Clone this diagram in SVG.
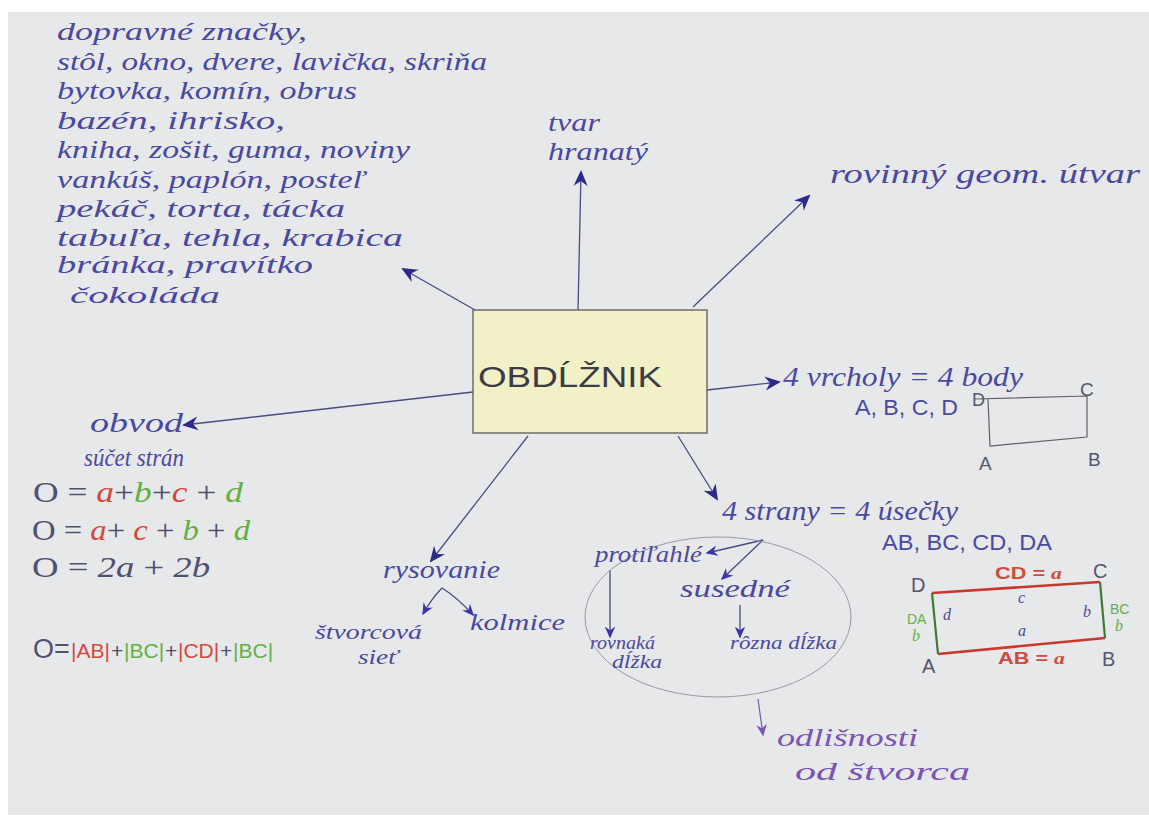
<svg xmlns="http://www.w3.org/2000/svg" width="1149" height="821" viewBox="0 0 1149 821">
<style>
.hw{font-family:"Liberation Serif","DejaVu Serif",serif;font-style:italic;fill:#4a48a0}
.pr{font-family:"Liberation Sans","DejaVu Sans",sans-serif;fill:#55556e}
.fs{font-family:"Liberation Sans","DejaVu Sans",sans-serif;font-size:21px}
.line{fill:none;stroke:#4b4b82;stroke-width:1.3}
.red{fill:#d24a3c}
.grn{fill:#62b044}
.blu{fill:#4a48a0}
.gry{fill:#505070}
.pur{fill:#7a55b5}
</style>
<defs>
<marker id="ah" viewBox="0 0 16 16" markerWidth="16" markerHeight="16" refX="14" refY="8" orient="auto" markerUnits="userSpaceOnUse">
<path d="M0,1 L16,8 L0,15 L5,8 z" fill="#2b2a8c"/>
</marker>
<marker id="ahs" viewBox="0 0 16 16" markerWidth="12" markerHeight="12" refX="14" refY="8" orient="auto" markerUnits="userSpaceOnUse">
<path d="M0,1 L16,8 L0,15 L5,8 z" fill="#3a36a8"/>
</marker>
<marker id="ahp" viewBox="0 0 16 16" markerWidth="12" markerHeight="12" refX="14" refY="8" orient="auto" markerUnits="userSpaceOnUse">
<path d="M0,1 L16,8 L0,15 L5,8 z" fill="#7a55b5"/>
</marker>
</defs>
<rect x="0" y="0" width="1149" height="821" fill="#ffffff"/>
<rect x="8" y="12" width="1141" height="803" fill="#e7e8e9"/>

<g id="connectors">
<path class="line" d="M475,310 L403,269" marker-end="url(#ah)"/>
<path class="line" d="M578,310 L581,172" marker-end="url(#ah)"/>
<path class="line" d="M693,307 L809,196" marker-end="url(#ah)"/>
<path class="line" d="M707,390 L779,382" marker-end="url(#ah)"/>
<path class="line" d="M473,392 L184,425" marker-end="url(#ah)"/>
<path class="line" d="M528,436 L431,561" marker-end="url(#ah)"/>
<path class="line" d="M678,436 L717,499" marker-end="url(#ah)"/>
<path class="line" d="M442,588 Q432,598 423,614" marker-end="url(#ahs)"/>
<path class="line" d="M442,588 Q458,598 473,615" marker-end="url(#ahs)"/>
<path class="line" d="M763,540 L707,553" marker-end="url(#ahs)"/>
<path class="line" d="M763,540 L722,579" marker-end="url(#ahs)"/>
<path class="line" d="M610,570 L610,637" marker-end="url(#ahs)"/>
<path class="line" d="M740,605 L740,637" marker-end="url(#ahs)"/>
<path d="M758,699 L763,735" fill="none" stroke="#7a55b5" stroke-width="1.2" marker-end="url(#ahp)"/>
</g>

<g id="center">
<rect x="473" y="310" width="234" height="123" fill="#f2f0c6" stroke="#5a5a5a" stroke-width="1.3"/>
<text x="478" y="387" font-family="Liberation Sans, DejaVu Sans, sans-serif" font-size="30" fill="#3c3c44" textLength="184" lengthAdjust="spacingAndGlyphs">OBDĹŽNIK</text>
</g>

<g id="examples" class="hw" font-size="26">
<text x="57" y="40" textLength="250" lengthAdjust="spacingAndGlyphs">dopravné značky,</text>
<text x="57" y="70" textLength="430" lengthAdjust="spacingAndGlyphs">stôl, okno, dvere, lavička, skriňa</text>
<text x="57" y="99" textLength="300" lengthAdjust="spacingAndGlyphs">bytovka, komín, obrus</text>
<text x="57" y="129" textLength="228" lengthAdjust="spacingAndGlyphs">bazén, ihrisko,</text>
<text x="57" y="158" textLength="353" lengthAdjust="spacingAndGlyphs">kniha, zošit, guma, noviny</text>
<text x="57" y="188" textLength="308" lengthAdjust="spacingAndGlyphs">vankúš, paplón, posteľ</text>
<text x="57" y="217" textLength="288" lengthAdjust="spacingAndGlyphs">pekáč, torta, tácka</text>
<text x="57" y="246" textLength="346" lengthAdjust="spacingAndGlyphs">tabuľa, tehla, krabica</text>
<text x="57" y="273" textLength="256" lengthAdjust="spacingAndGlyphs">bránka, pravítko</text>
<text x="70" y="303" font-size="24" textLength="150" lengthAdjust="spacingAndGlyphs">čokoláda</text>
</g>

<g id="tvar" class="hw" font-size="25">
<text x="548" y="131" textLength="52" lengthAdjust="spacingAndGlyphs">tvar</text>
<text x="548" y="160" textLength="100" lengthAdjust="spacingAndGlyphs">hranatý</text>
</g>

<g id="rovinny" class="hw" font-size="27">
<text x="830" y="183" textLength="310" lengthAdjust="spacingAndGlyphs">rovinný geom. útvar</text>
</g>

<g id="vrcholy">
<text class="hw" x="783" y="386" font-size="28" textLength="240" lengthAdjust="spacingAndGlyphs">4 vrcholy = 4 body</text>
<text class="pr" x="855" y="415" font-size="22" style="fill:#4a48a0" textLength="103" lengthAdjust="spacingAndGlyphs">A, B, C, D</text>
<path d="M975,399 L1087,396 L1087,437 L990,446 L988,399" fill="none" stroke="#606068" stroke-width="1.2"/>
<text class="pr" x="972" y="406" font-size="18">D</text>
<text class="pr" x="1080" y="396" font-size="19">C</text>
<text class="pr" x="979" y="470" font-size="19">A</text>
<text class="pr" x="1088" y="466" font-size="19">B</text>
</g>

<g id="obvod">
<text class="hw" x="90" y="432" font-size="28" textLength="93" lengthAdjust="spacingAndGlyphs">obvod</text>
<text class="hw" x="84" y="466" font-size="25" textLength="100" lengthAdjust="spacingAndGlyphs">súčet strán</text>
<text x="33" y="502" font-family="Liberation Serif, serif" font-size="30" textLength="210" lengthAdjust="spacingAndGlyphs"><tspan class="gry">O = </tspan><tspan class="red" font-style="italic">a</tspan><tspan class="gry">+</tspan><tspan class="grn" font-style="italic">b</tspan><tspan class="gry">+</tspan><tspan class="red" font-style="italic">c</tspan><tspan class="gry"> + </tspan><tspan class="grn" font-style="italic">d</tspan></text>
<text x="32" y="540" font-family="Liberation Serif, serif" font-size="30" textLength="218" lengthAdjust="spacingAndGlyphs"><tspan class="gry">O = </tspan><tspan class="red" font-style="italic">a</tspan><tspan class="gry">+ </tspan><tspan class="red" font-style="italic">c</tspan><tspan class="gry"> + </tspan><tspan class="grn" font-style="italic">b</tspan><tspan class="gry"> + </tspan><tspan class="grn" font-style="italic">d</tspan></text>
<text x="32" y="577" font-family="Liberation Serif, serif" font-size="30" class="gry" textLength="178" lengthAdjust="spacingAndGlyphs">O = <tspan font-style="italic">2a</tspan> + <tspan font-style="italic">2b</tspan></text>
<text x="33" y="658" class="gry" font-family="Liberation Sans, sans-serif" font-size="27">O=</text>
<text x="71" y="658" class="fs red">|AB|</text>
<text x="111" y="658" class="fs gry">+</text>
<text x="124" y="658" class="fs grn">|BC|</text>
<text x="165" y="658" class="fs gry">+</text>
<text x="178" y="658" class="fs red">|CD|</text>
<text x="220" y="658" class="fs gry">+</text>
<text x="233" y="658" class="fs grn">|BC|</text>
</g>

<g id="rysovanie" class="hw">
<text x="383" y="578" font-size="25" textLength="117" lengthAdjust="spacingAndGlyphs">rysovanie</text>
<text x="315" y="639" font-size="21" textLength="107" lengthAdjust="spacingAndGlyphs">štvorcová</text>
<text x="358" y="664" font-size="21" textLength="40" lengthAdjust="spacingAndGlyphs">sieť</text>
<text x="470" y="630" font-size="24" textLength="95" lengthAdjust="spacingAndGlyphs">kolmice</text>
</g>

<g id="strany">
<text class="hw" x="722" y="520" font-size="27" textLength="236" lengthAdjust="spacingAndGlyphs">4 strany = 4 úsečky</text>
<ellipse cx="718" cy="617" rx="133" ry="80" fill="none" stroke="#9a9aa6" stroke-width="1"/>
<text class="hw" x="595" y="562" font-size="24" textLength="107" lengthAdjust="spacingAndGlyphs">protiľahlé</text>
<text class="hw" x="680" y="597" font-size="25" textLength="110" lengthAdjust="spacingAndGlyphs">susedné</text>
<text class="hw" x="590" y="649" font-size="18" textLength="65" lengthAdjust="spacingAndGlyphs">rovnaká</text>
<text class="hw" x="612" y="668" font-size="18" textLength="50" lengthAdjust="spacingAndGlyphs">dĺžka</text>
<text class="hw" x="730" y="649" font-size="18" textLength="107" lengthAdjust="spacingAndGlyphs">rôzna dĺžka</text>
</g>

<g id="odlisnosti" class="hw" font-size="26">
<text x="777" y="746" class="pur" textLength="141" lengthAdjust="spacingAndGlyphs">odlišnosti</text>
<text x="795" y="780" class="pur" textLength="175" lengthAdjust="spacingAndGlyphs">od štvorca</text>
</g>

<g id="usecky">
<text class="pr" x="882" y="550" font-size="22" style="fill:#4a48a0" textLength="170" lengthAdjust="spacingAndGlyphs">AB, BC, CD, DA</text>
<line x1="932" y1="593" x2="1100" y2="582" stroke="#c8382c" stroke-width="2.6"/>
<line x1="938" y1="654" x2="1105" y2="638" stroke="#c8382c" stroke-width="2.6"/>
<line x1="932" y1="593" x2="938" y2="654" stroke="#3f7a34" stroke-width="2.2"/>
<line x1="1100" y1="582" x2="1105" y2="638" stroke="#3f7a34" stroke-width="2.2"/>
<text class="pr" x="911" y="592" font-size="20">D</text>
<text class="pr" x="1093" y="578" font-size="20">C</text>
<text class="pr" x="922" y="673" font-size="20">A</text>
<text class="pr" x="1102" y="666" font-size="20">B</text>
<text x="995" y="579" font-family="Liberation Sans, sans-serif" font-size="16" font-weight="bold" class="red" textLength="67" lengthAdjust="spacingAndGlyphs">CD = <tspan font-family="Liberation Serif, serif" font-style="italic">a</tspan></text>
<text x="998" y="664" font-family="Liberation Sans, sans-serif" font-size="17" font-weight="bold" class="red" textLength="67" lengthAdjust="spacingAndGlyphs">AB = <tspan font-family="Liberation Serif, serif" font-style="italic">a</tspan></text>
<text x="907" y="624" font-family="Liberation Sans, sans-serif" font-size="14" class="grn">DA</text>
<text x="912" y="641" font-family="Liberation Serif, serif" font-style="italic" font-size="16" class="grn">b</text>
<text x="1110" y="614" font-family="Liberation Sans, sans-serif" font-size="14" class="grn">BC</text>
<text x="1115" y="631" font-family="Liberation Serif, serif" font-style="italic" font-size="16" class="grn">b</text>
<text x="1018" y="603" font-family="Liberation Serif, serif" font-style="italic" font-size="16" class="blu">c</text>
<text x="1018" y="636" font-family="Liberation Serif, serif" font-style="italic" font-size="16" class="blu">a</text>
<text x="943" y="620" font-family="Liberation Serif, serif" font-style="italic" font-size="16" class="blu">d</text>
<text x="1083" y="617" font-family="Liberation Serif, serif" font-style="italic" font-size="16" class="blu">b</text>
</g>
</svg>
